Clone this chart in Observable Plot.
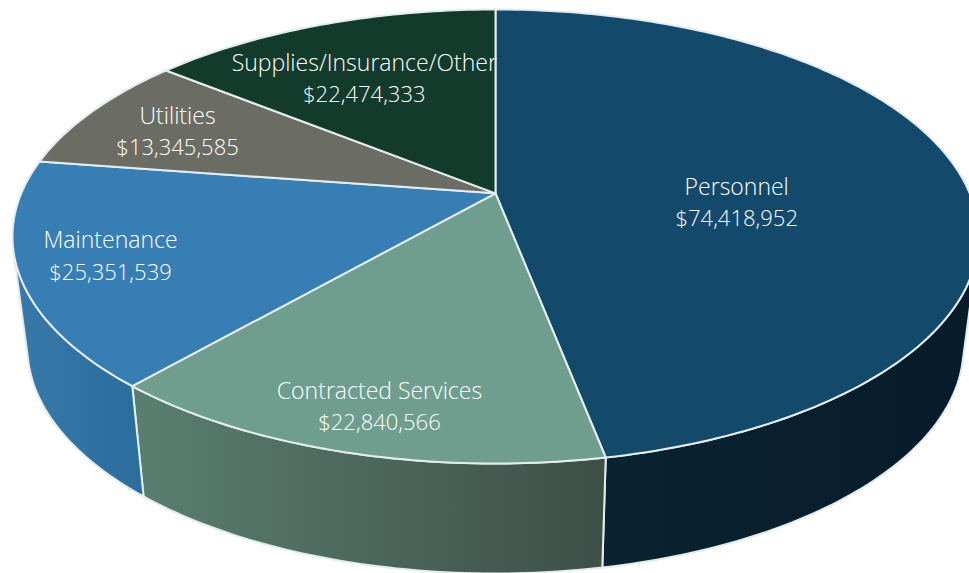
<!DOCTYPE html>
<html>
<head>
<meta charset="utf-8">
<script src="https://cdn.jsdelivr.net/npm/d3@7"></script>
<script src="https://cdn.jsdelivr.net/npm/@observablehq/plot@0.6"></script>
<style>
html,body{margin:0;padding:0;background:#fff;overflow:hidden}
</style>
</head>
<body>
<div id="chart"></div>
<script>
// Data
const categories = ["Personnel", "Contracted Services", "Maintenance", "Utilities", "Supplies/Insurance/Other"];
const amounts = [74418952, 22840566, 25351539, 13345585, 22474333];

// Styles
const topColors = ["#134a6c", "#6f9e8f", "#377eb4", "#6b6d64", "#133b2b"];
const wallStops = [["#0a2231", "#071c2a"], ["#5a7f70", "#3d4f47"], ["#3779a8", "#2b6c9e"]];
const labelNudge = [[-39, 19], [-33, 68], [-107, 13], [-69, -14], [-20, -10]];

// Perspective of the pie: a circle seen so that its centre sits behind the ellipse centre
const k = -0.19, s = Math.sqrt(1 - k * k);
const topDisc = {cx: 495, cy: 236, rx: 483, ry: 227};
const baseDisc = {cx: 495, cy: 347, rx: 468, ry: 226};
const project = (disc, r, turn) => {
  const a = turn * 2 * Math.PI;
  const u = r * Math.sin(a), v = -r * Math.cos(a), d = 1 + k * v;
  return {x: disc.cx + disc.rx * u * s / d, y: disc.cy + disc.ry * (v + k) / d};
};
const arc = (disc, t0, t1) => {
  const n = Math.max(2, Math.ceil(Math.abs(t1 - t0) * 360));
  return d3.range(n + 1).map(i => project(disc, 1, t0 + (t1 - t0) * i / n));
};

const total = d3.sum(amounts);
const ends = d3.cumsum(amounts).map(c => c / total);
const starts = [0, ...ends.slice(0, -1)];
const fmt = d3.format("$,d");

// Faces and walls are derived from the values
const faces = categories.map((c, i) => [project(topDisc, 0, 0), ...arc(topDisc, starts[i], ends[i])]);
const silhouette = [105 / 360, 255 / 360]; // visible front part of the rim
const walls = [0, 1, 2].map(i => {
  const t0 = Math.max(starts[i], silhouette[0]), t1 = Math.min(ends[i], silhouette[1]);
  return [...arc(topDisc, t0, t1), ...arc(baseDisc, t1, t0)];
});
const labels = categories.map((c, i) => {
  const p = project(topDisc, 0.6, (starts[i] + ends[i]) / 2);
  return {x: p.x + labelNudge[i][0], y: p.y + labelNudge[i][1], name: c, amount: fmt(amounts[i])};
});

const defs = () => {
  const d = d3.create("svg:defs");
  wallStops.forEach((st, i) => {
    const g = d.append("linearGradient").attr("id", "wall" + i).attr("x1", 0).attr("x2", 1).attr("y1", 0).attr("y2", 0);
    g.append("stop").attr("offset", "0%").attr("stop-color", st[0]);
    g.append("stop").attr("offset", "100%").attr("stop-color", st[1]);
  });
  return d.node();
};

const edge = "#e4ecee";
const textStyle = {x: "x", y: "y", fill: "#fff", fontWeight: 300, fontFamily: "Open Sans", textAnchor: "middle", lineAnchor: "middle"};
const chart = Plot.plot({
  width: 969,
  height: 573,
  margin: 0,
  x: {domain: [0, 969], range: [0, 969], axis: null},
  y: {domain: [0, 573], range: [0, 573], axis: null},
  style: {background: "#fff"},
  marks: [
    defs,
    ...walls.map((w, i) => Plot.line(w, {x: "x", y: "y", curve: "linear-closed", fill: `url(#wall${i})`, stroke: edge, strokeWidth: 2})),
    ...faces.map((f, i) => Plot.line(f, {x: "x", y: "y", curve: "linear-closed", fill: topColors[i], stroke: edge, strokeWidth: 2})),
    Plot.text(labels, {...textStyle, text: "name", fontSize: 23, dy: -12.5}),
    Plot.text(labels, {...textStyle, text: "amount", fontSize: 22, dy: 19})
  ]
});
document.getElementById("chart").appendChild(chart);
</script>
</body>
</html>
